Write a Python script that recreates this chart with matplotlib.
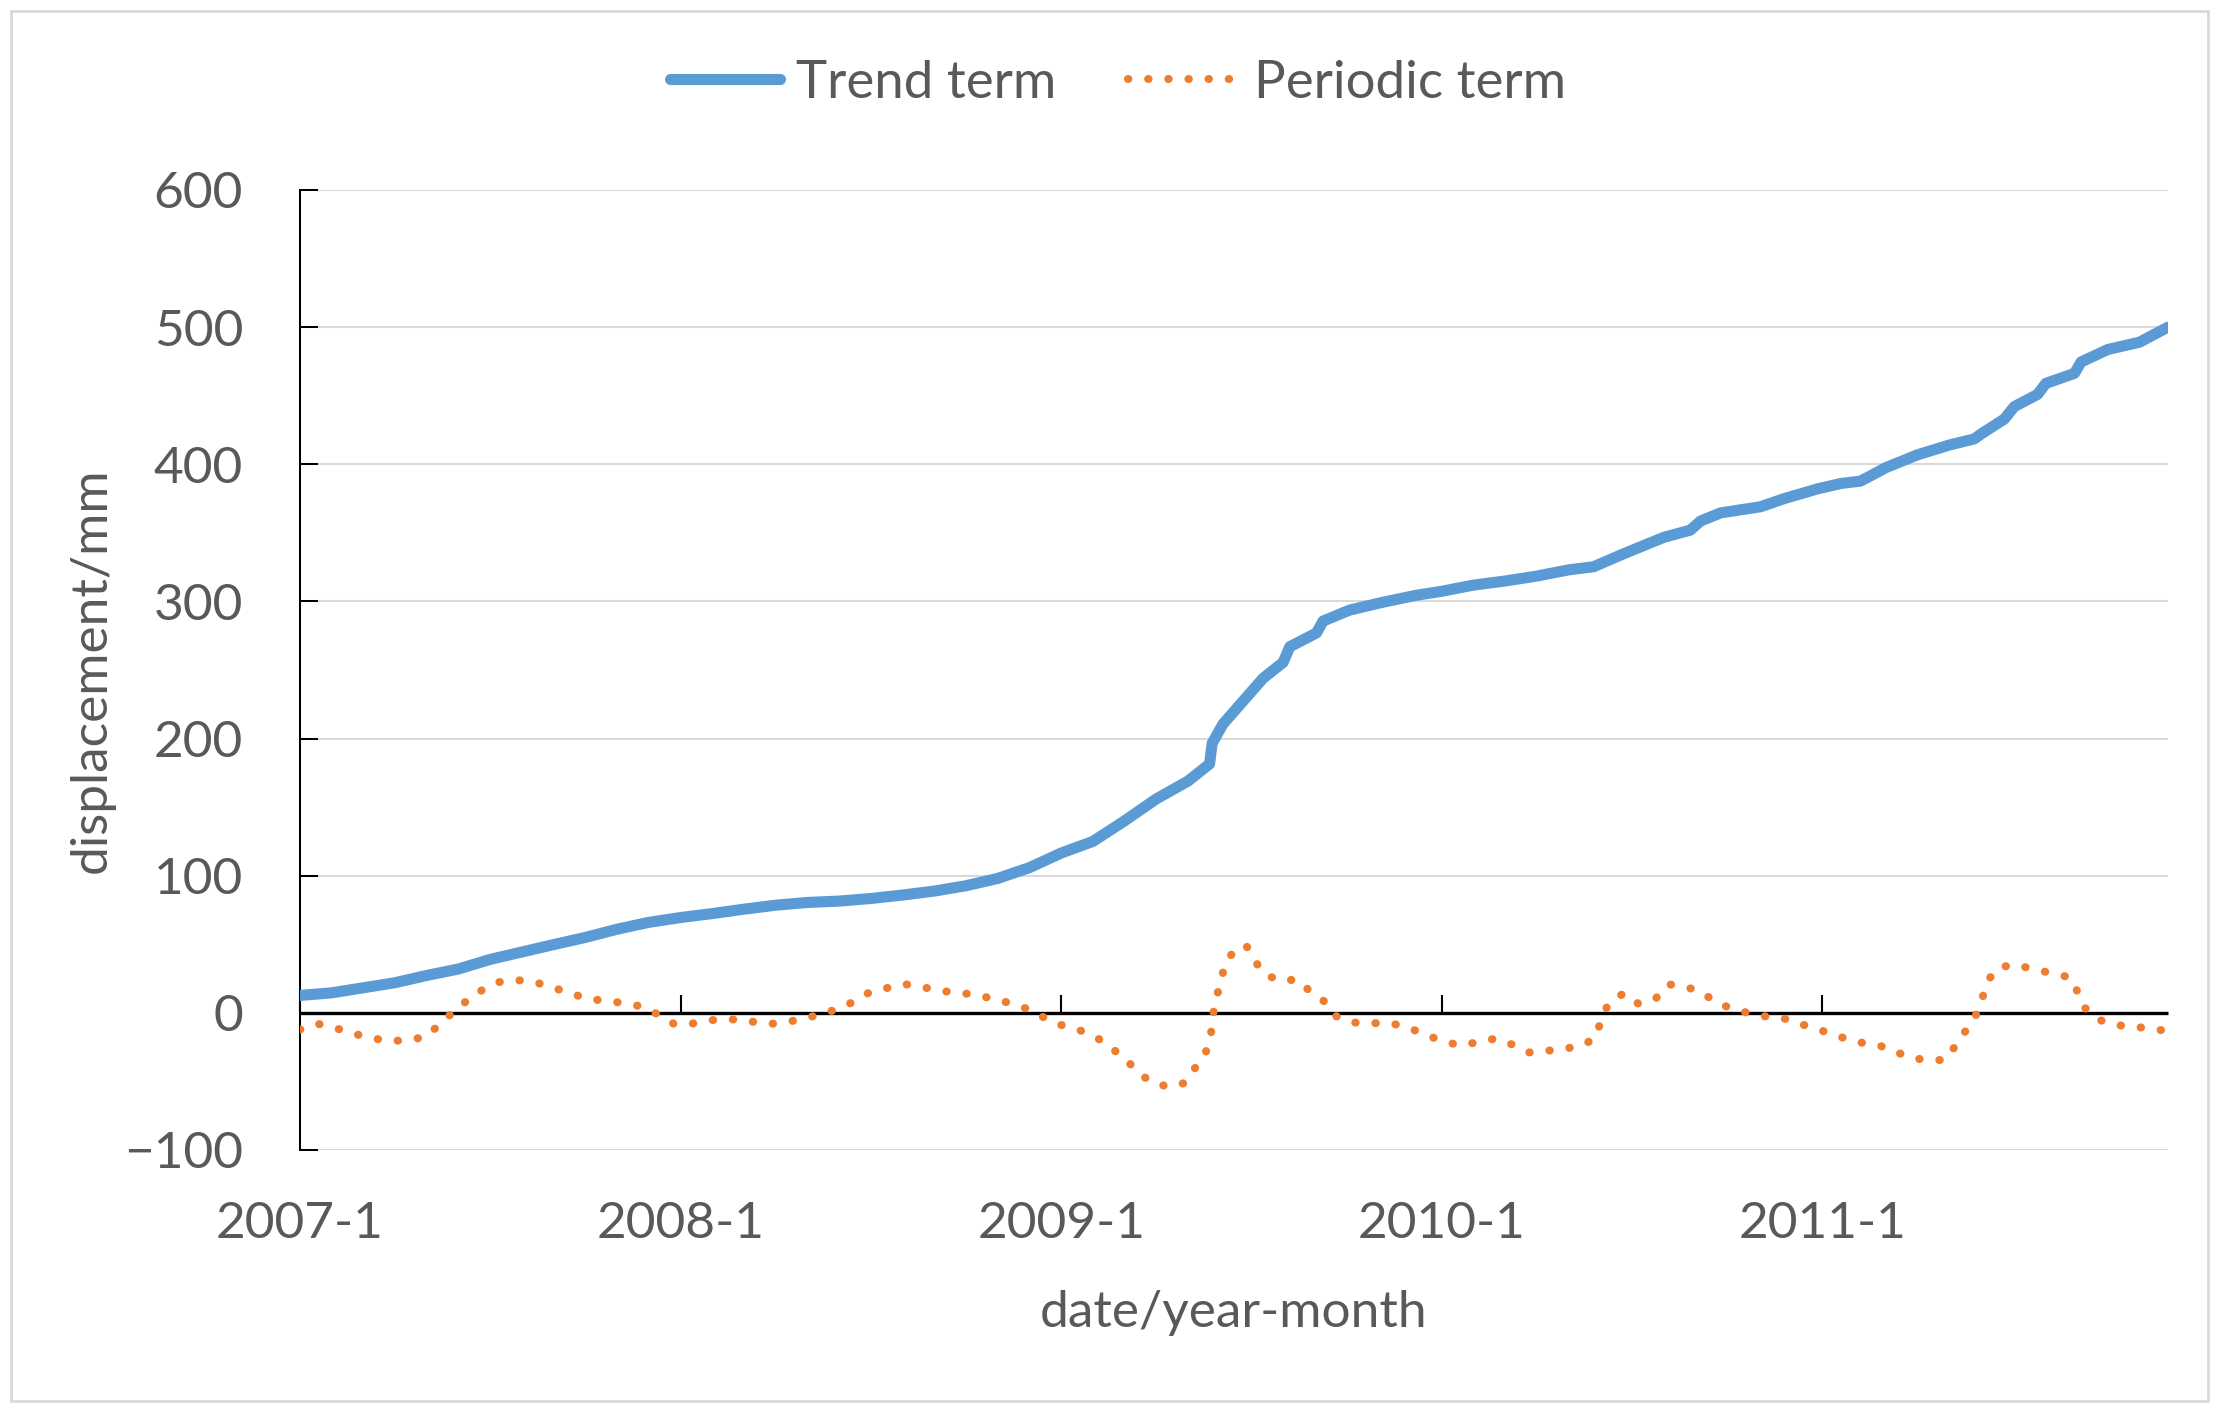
import matplotlib
matplotlib.use("Agg")
import matplotlib.pyplot as plt
from matplotlib.patches import Rectangle

plt.rcParams['font.family'] = ['Lato', 'DejaVu Sans']

# ---------------- data (x in months since 2007-1) ----------------
trend_month = [0, 1, 2, 3, 4, 5, 6, 7, 8, 9, 10, 11, 12, 13, 14, 15, 16, 17, 18,
               19, 20, 21, 22, 23, 24, 25, 26, 27, 28, 28.68, 28.76, 29.1, 29.95,
               30.37, 31.0, 31.21, 32.05, 32.26, 33.1, 34.16, 35.2, 36, 37, 38, 39,
               40, 40.79, 41.74, 43.0, 43.84, 44.16, 44.8, 46.05, 46.8, 47.84, 48.58,
               49.2, 49.5, 50, 51, 52, 52.79, 53, 53.74, 54.05, 54.79, 55.05, 55.95,
               56.16, 57, 58, 58.9]
trend_mm = [12.7, 14.6, 18.3, 22.0, 27.3, 32.0, 39.0, 44.4, 49.8, 55.0, 61.0, 66.0,
            69.5, 72.4, 75.6, 78.5, 80.5, 81.5, 83.4, 85.9, 88.8, 92.7, 98.0, 105.9,
            116.5, 125.0, 140.0, 156.0, 169.0, 181.5, 196.5, 210.5, 233.0, 244.0,
            255.6, 267.0, 277.0, 285.7, 293.7, 299.5, 304.5, 307.4, 311.9, 314.9,
            318.5, 323.0, 325.3, 334.8, 346.7, 352.0, 358.6, 364.6, 369.0, 375.0,
            382.0, 386.0, 387.7, 391.3, 397.5, 406.9, 414.0, 418.5, 422.0, 433.0,
            442.0, 451.0, 459.0, 466.3, 474.6, 483.7, 489.0, 500.0]

periodic_month = [0, 0.57, 1.13, 1.68, 2.24, 2.81, 3.39, 3.95, 4.4, 4.82, 5.27, 5.74,
                  6.27, 6.84, 7.41, 7.96, 8.52, 9.07, 9.64, 10.22, 10.78, 11.32, 11.81,
                  12.37, 12.93, 13.52, 14.09, 14.67, 15.23, 15.8, 16.35, 16.9, 17.43,
                  17.93, 18.49, 19.05, 19.62, 20.18, 20.76, 21.33, 21.88, 22.45, 22.99,
                  23.5, 24.02, 24.57, 25.12, 25.58, 26.04, 26.44, 26.91, 27.46, 27.92,
                  28.24, 28.56, 28.72, 28.78, 28.88, 29.04, 29.17, 29.51, 29.84, 30.11,
                  30.45, 30.98, 31.42, 31.86, 32.32, 32.68, 33.17, 33.76, 34.34, 34.88,
                  35.42, 35.97, 36.56, 37.13, 37.68, 38.21, 38.73, 39.31, 39.87, 40.44,
                  40.86, 41.03, 41.26, 41.74, 42.21, 42.77, 43.16, 43.63, 44.18, 44.65,
                  45.17, 45.74, 46.31, 46.88, 47.44, 47.99, 48.55, 49.1, 49.67, 50.21,
                  50.74, 51.29, 51.87, 52.21, 52.53, 52.84, 53.05, 53.24, 53.57, 54.13,
                  54.68, 55.25, 55.82, 56.05, 56.28, 56.72, 57.25, 57.82, 58.39, 58.9]
periodic_mm = [-12.2, -8.0, -11.2, -15.1, -18.3, -20.7, -19.8, -17.6, -8.5, 0.5, 9.0, 16.6,
               22.4, 23.9, 22.4, 18.5, 14.4, 10.2, 8.8, 7.1, 4.6, -1.5, -8.3,
               -7.8, -5.4, -4.6, -5.6, -8.3, -7.3, -4.6, -1.5, 2.4, 7.8,
               14.6, 18.0, 21.0, 18.8, 16.1, 14.6, 13.2, 10.0, 6.8, 2.4,
               -3.9, -9.0, -12.5, -18.0, -25.6, -33.8, -43.9, -51.4, -54.1, -50.9,
               -39.6, -28.8, -16.3, -2.5, 10.0, 23.0, 36.3, 46.9, 48.9, 37.6,
               27.6, 23.0, 24.6, 15.5, 8.0, -2.5, -7.0, -7.5, -7.5, -10.0,
               -15.5, -20.0, -23.8, -21.4, -18.8, -23.0, -28.9, -27.7, -26.2, -23.8,
               -17.9, -4.5, 6.8, 14.3, 6.5, 11.0, 20.8, 19.3, 15.5, 7.4,
               3.0, -0.6, -3.0, -4.5, -9.0, -13.0, -17.4, -21.4, -22.8, -27.2,
               -32.6, -34.4, -34.4, -23.6, -12.7, -1.8, 11.2, 24.3, 33.3, 35.1,
               31.5, 29.0, 25.7, 15.2, 3.6, -5.0, -9.0, -9.8, -12.0, -13.0]

tick_months = [0, 12, 24, 36, 48]
tick_labels = ["2007-1", "2008-1", "2009-1", "2010-1", "2011-1"]
y_ticks = [-100, 0, 100, 200, 300, 400, 500, 600]
Y_MIN, Y_MAX = -100, 600
X_MAX = 58.9

# ---------------- figure ----------------
W, H = 2219, 1410
fig = plt.figure(figsize=(W / 100, H / 100), dpi=100)
ax = fig.add_axes([300 / W, 1 - 1150 / H, (2168 - 300) / W, (1150 - 190) / H])

text_col = '#595959'
grid_col = '#d9d9d9'
fs = 37

ax.plot(trend_month, trend_mm, color='#5B9BD5', lw=8, solid_capstyle='round',
        solid_joinstyle='round', label='Trend term', zorder=3)
ax.plot(periodic_month, periodic_mm, color='#ED7D31', lw=5.8,
        linestyle=(0, (0.05, 2.45)), dash_capstyle='round',
        label='Periodic term', zorder=3)

ax.set_xlim(0, X_MAX)
ax.set_ylim(Y_MIN, Y_MAX)
ax.set_yticks(y_ticks)
ax.set_xticks(tick_months)
ax.set_xticklabels(tick_labels)

ax.set_axisbelow(True)
ax.yaxis.grid(True, color=grid_col, lw=1.45)
ax.xaxis.grid(False)

for s in ['top', 'right', 'bottom']:
    ax.spines[s].set_visible(False)
ax.spines['left'].set_linewidth(1.45)
ax.spines['left'].set_color('black')

ax.tick_params(axis='y', direction='in', length=13, width=1.45, color='black',
               labelsize=fs, labelcolor=text_col, pad=41)
ax.tick_params(axis='x', length=0, labelsize=fs, labelcolor=text_col, pad=37)

# horizontal axis line crossing at y = 0, with tick marks pointing up
zero_loc = (0 - Y_MIN) / (Y_MAX - Y_MIN)
secax = ax.secondary_xaxis(zero_loc)
secax.set_zorder(2.5)
secax.set_xticks(tick_months)
secax.tick_params(axis='x', direction='in', length=13, width=1.5, color='black',
                  labelbottom=False, labeltop=False)
secax.spines['bottom'].set_linewidth(2.4)
secax.spines['bottom'].set_color('black')
secax.spines['bottom'].set_capstyle('butt')

ax.set_ylabel('displacement/mm', fontsize=fs, color=text_col, va='center')
ax.yaxis.set_label_coords((92 - 300) / (2168 - 300), 0.5)
ax.set_xlabel('date/year-month', fontsize=fs, color=text_col, va='center')
ax.xaxis.set_label_coords(0.5, (1150 - 1313) / (1150 - 190))

fig.legend(loc='center', bbox_to_anchor=(1118 / W, 1 - 83 / H), ncol=2,
           frameon=False, fontsize=38, labelcolor=text_col, handlelength=2.1,
           handletextpad=0.3, columnspacing=1.35)

fig.patches.append(Rectangle((11 / W, 9 / H), (2208 - 11) / W, (1401 - 11) / H,
                             transform=fig.transFigure, fill=False,
                             edgecolor=grid_col, lw=2))

fig.savefig('out.png', dpi=100)
